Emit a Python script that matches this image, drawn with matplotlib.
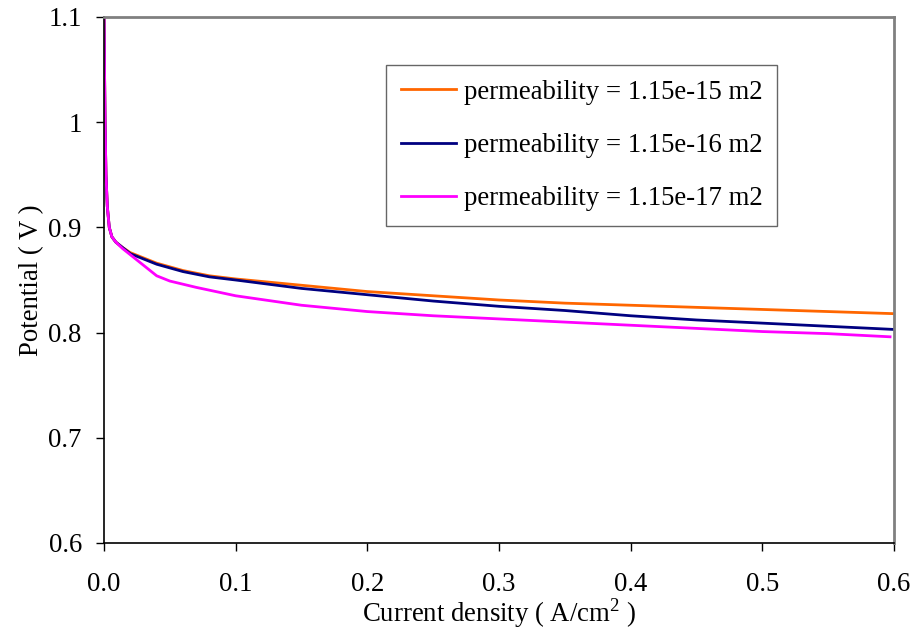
import matplotlib
matplotlib.use("Agg")
import matplotlib.pyplot as plt

plt.rcParams['font.family'] = ['Liberation Serif', 'DejaVu Serif']
plt.rcParams['mathtext.fontset'] = 'custom'
plt.rcParams['mathtext.rm'] = 'Liberation Serif'

x_orange = [0.0, 0.0008, 0.0015, 0.0025, 0.004, 0.006, 0.009, 0.014, 0.02, 0.03, 0.04, 0.06, 0.08, 0.1, 0.15, 0.2, 0.25, 0.3, 0.35, 0.4, 0.45, 0.5, 0.55, 0.6]
y_orange = [1.1, 1.0, 0.95, 0.92, 0.90, 0.891, 0.886, 0.881, 0.876, 0.871, 0.866, 0.859, 0.854, 0.851, 0.845, 0.839, 0.835, 0.831, 0.828, 0.826, 0.824, 0.822, 0.820, 0.818]

x_blue = [0.0, 0.0008, 0.0015, 0.0025, 0.004, 0.006, 0.009, 0.014, 0.02, 0.03, 0.04, 0.06, 0.08, 0.1, 0.15, 0.2, 0.25, 0.3, 0.35, 0.4, 0.45, 0.5, 0.55, 0.6]
y_blue = [1.1, 1.0, 0.95, 0.92, 0.90, 0.891, 0.886, 0.881, 0.875, 0.870, 0.865, 0.858, 0.853, 0.850, 0.842, 0.836, 0.830, 0.825, 0.821, 0.816, 0.812, 0.809, 0.806, 0.803]

x_magenta = [0.0, 0.0008, 0.0015, 0.0025, 0.004, 0.006, 0.009, 0.014, 0.02, 0.03, 0.04, 0.05, 0.07, 0.1, 0.15, 0.2, 0.25, 0.3, 0.35, 0.4, 0.45, 0.5, 0.55, 0.597]
y_magenta = [1.1, 1.0, 0.95, 0.92, 0.90, 0.891, 0.886, 0.880, 0.874, 0.864, 0.854, 0.849, 0.843, 0.835, 0.826, 0.820, 0.816, 0.813, 0.810, 0.807, 0.804, 0.801, 0.799, 0.796]

labels = ["permeability = 1.15e-15 m2", "permeability = 1.15e-16 m2", "permeability = 1.15e-17 m2"]
x_ticks = [0.0, 0.1, 0.2, 0.3, 0.4, 0.5, 0.6]
y_ticks = [0.6, 0.7, 0.8, 0.9, 1.0, 1.1]
y_ticklabels = ["0.6", "0.7", "0.8", "0.9", "1", "1.1"]

fig = plt.figure(figsize=(9.16, 6.33), dpi=100)
ax = fig.add_axes([104/916, 1 - 543/633, (894-104)/916, (543-17)/633])

ax.plot(x_orange, y_orange, color='#FF6600', lw=2.0, label=labels[0])
ax.plot(x_blue, y_blue, color='#000080', lw=2.0, label=labels[1])
ax.plot(x_magenta, y_magenta, color='#FF00FF', lw=2.0, label=labels[2])

ax.set_xlim(0, 0.6)
ax.set_ylim(0.6, 1.1)
ax.set_xticks(x_ticks)
ax.set_xticklabels([f"{v:.1f}" for v in x_ticks])
ax.set_yticks(y_ticks)
ax.set_yticklabels(y_ticklabels)
ax.tick_params(direction='out', length=6, width=1, labelsize=19.3, colors='black')
ax.tick_params(axis='x', pad=15)
ax.tick_params(axis='y', pad=10)

for s in ['top', 'right']:
    ax.spines[s].set_color('#808080')
    ax.spines[s].set_linewidth(2)
for s in ['left', 'bottom']:
    ax.spines[s].set_color('black')
    ax.spines[s].set_linewidth(1.2)

ax.set_xlabel("Current density ( A/cm$^2$ )", fontsize=19.3, labelpad=-1)
ax.set_ylabel("Potential ( V )", fontsize=19.3, labelpad=3)

leg = ax.legend(loc='upper left', bbox_to_anchor=((386-104)/790, 1 - (65-17)/526),
                frameon=True, fancybox=False, fontsize=19.3, handlelength=2.05,
                handletextpad=0.3, labelspacing=1.05, borderpad=0.55, borderaxespad=0)
leg.get_frame().set_edgecolor('#404040')
leg.get_frame().set_linewidth(1.0)

fig.savefig("out.png", dpi=100)
